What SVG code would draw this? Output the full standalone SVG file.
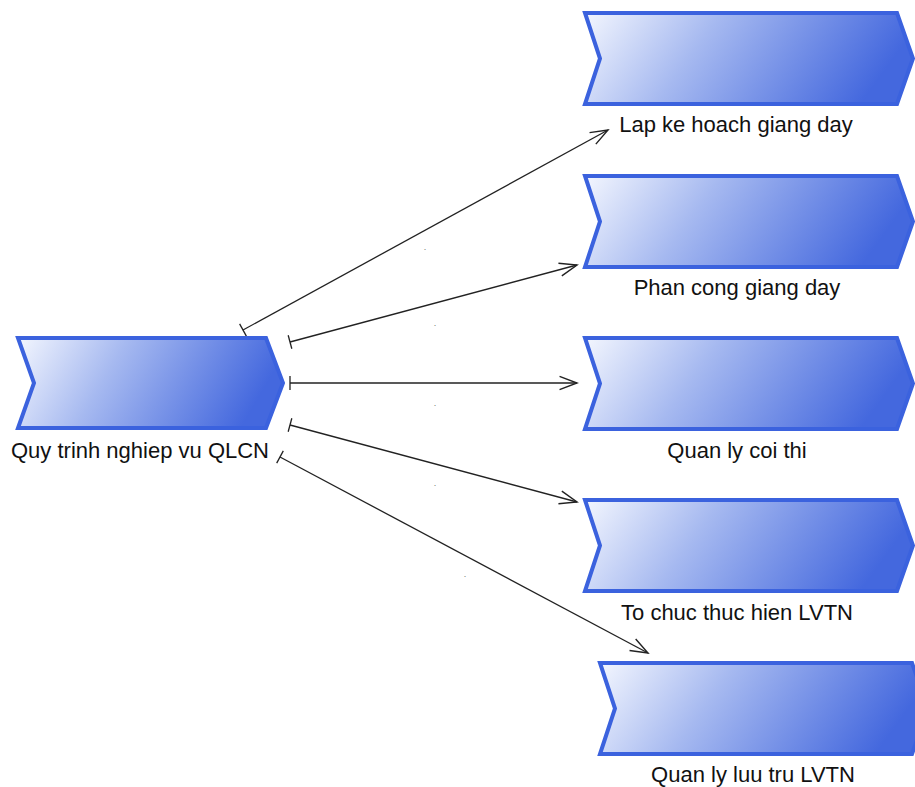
<svg xmlns="http://www.w3.org/2000/svg" width="915" height="787" viewBox="0 0 915 787">
<style>
.node path{fill:url(#g);stroke:#3b62de;stroke-width:4;stroke-linejoin:miter}
.lbl{font-family:"Liberation Sans",Arial,sans-serif;font-size:22px;fill:#111;text-anchor:middle}
.dot{font-family:"Liberation Sans",Arial,sans-serif;font-size:9px;fill:#777;text-anchor:middle}
.conn line{stroke:#222;stroke-width:1.3;fill:none;marker-start:url(#bar);marker-end:url(#arr)}
</style>
<defs>
<linearGradient id="g" x1="0" y1="0" x2="1" y2="0.2">
<stop offset="0" stop-color="#f3f6fe"/>
<stop offset="0.4" stop-color="#a6b9f0"/>
<stop offset="1" stop-color="#4468de"/>
</linearGradient>
<marker id="arr" markerUnits="userSpaceOnUse" markerWidth="24" markerHeight="24" viewBox="-20 -10 22 20" refX="0" refY="0" orient="auto">
<path d="M-16,-6 L0,0 L-16,6" fill="none" stroke="#222" stroke-width="1.3"/>
</marker>
<marker id="bar" markerUnits="userSpaceOnUse" markerWidth="20" markerHeight="20" viewBox="-10 -10 20 20" refX="0" refY="0" orient="auto">
<path d="M0,-7 L0,7" fill="none" stroke="#222" stroke-width="1.3"/>
</marker>
</defs>
<g id="connectors" class="conn">
<line x1="243" y1="330" x2="608" y2="130"/>
<line x1="290" y1="342" x2="577" y2="265"/>
<line x1="290" y1="383" x2="577" y2="383"/>
<line x1="290" y1="425" x2="577" y2="502"/>
<line x1="280" y1="457" x2="648" y2="653"/>
<text class="dot" x="425" y="250">.</text>
<text class="dot" x="435" y="326">.</text>
<text class="dot" x="435" y="406">.</text>
<text class="dot" x="435" y="486">.</text>
<text class="dot" x="465" y="577">.</text>
</g>
<g id="src" class="node">
<path d="M18,338 L266,338 L283,383 L266,428 L18,428 L34,383 Z"/>
<text class="lbl" x="140" y="458">Quy trinh nghiep vu QLCN</text>
</g>
<g id="n1" class="node">
<path transform="translate(585,13)" d="M0,0 L312,0 L328,45.5 L312,91 L0,91 L15,45.5 Z"/>
<text class="lbl" x="736" y="132">Lap ke hoach giang day</text>
</g>
<g id="n2" class="node">
<path transform="translate(585,176)" d="M0,0 L312,0 L328,45.5 L312,91 L0,91 L15,45.5 Z"/>
<text class="lbl" x="737" y="295">Phan cong giang day</text>
</g>
<g id="n3" class="node">
<path transform="translate(585,338)" d="M0,0 L312,0 L328,45.5 L312,91 L0,91 L15,45.5 Z"/>
<text class="lbl" x="737" y="458">Quan ly coi thi</text>
</g>
<g id="n4" class="node">
<path transform="translate(585,500)" d="M0,0 L312,0 L328,45.5 L312,91 L0,91 L15,45.5 Z"/>
<text class="lbl" x="737" y="620">To chuc thuc hien LVTN</text>
</g>
<g id="n5" class="node">
<path transform="translate(600,663)" d="M0,0 L312,0 L328,45.5 L312,91 L0,91 L15,45.5 Z"/>
<text class="lbl" x="753" y="782">Quan ly luu tru LVTN</text>
</g>
</svg>
